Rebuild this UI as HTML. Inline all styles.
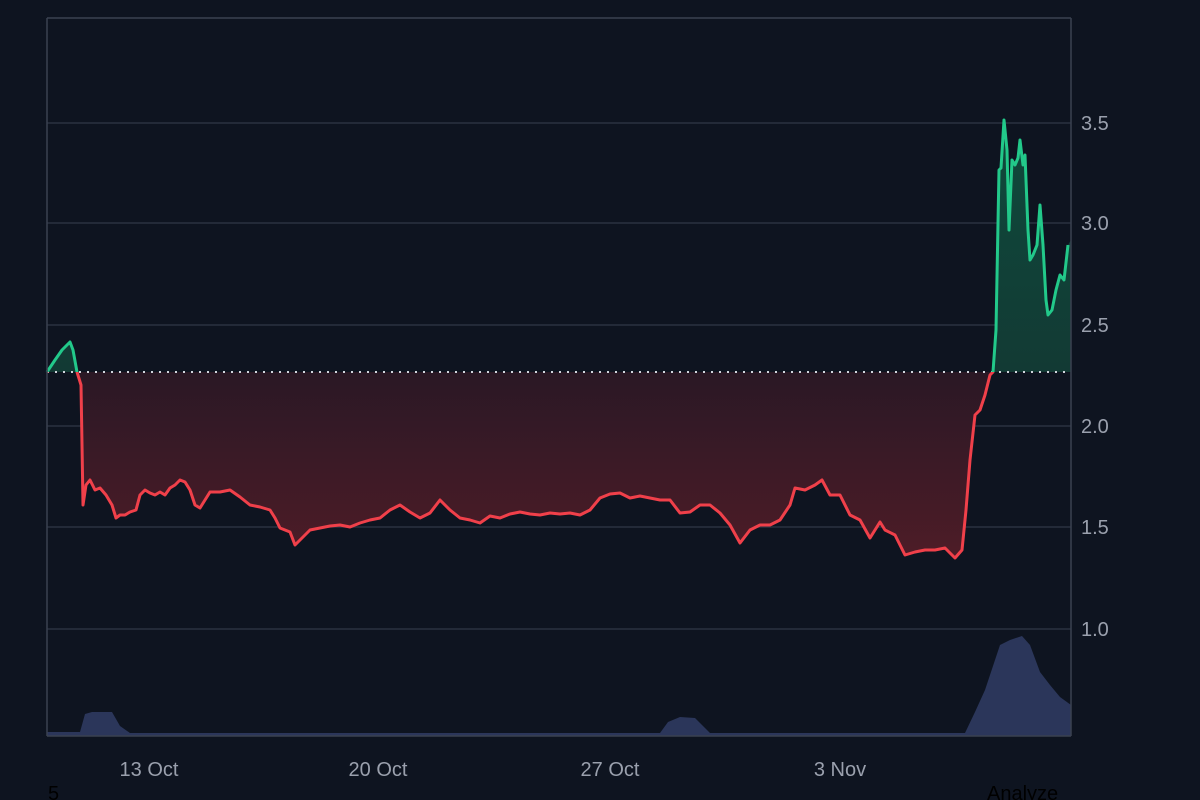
<!DOCTYPE html><html><head><style>
html,body{margin:0;padding:0;background:#0e1420;}
svg{display:block;font-family:"Liberation Sans",sans-serif;}
</style></head><body>
<svg width="1200" height="800" viewBox="0 0 1200 800">
<defs>
<linearGradient id="rg" x1="0" y1="372" x2="0" y2="560" gradientUnits="userSpaceOnUse"><stop offset="0" stop-color="#2a1825"/><stop offset="1" stop-color="#4e1c27"/></linearGradient>
<linearGradient id="gg" x1="0" y1="120" x2="0" y2="372" gradientUnits="userSpaceOnUse"><stop offset="0" stop-color="#0f4a3c"/><stop offset="1" stop-color="#123a34"/></linearGradient>
<clipPath id="top"><rect x="0" y="0" width="1200" height="372"/></clipPath>
<clipPath id="bot"><rect x="0" y="372" width="1200" height="430"/></clipPath>
<path id="l" d="M47,372 L55,360 L62,350 L66,346 L70,342 L73,350 L77,372 L81,385 L83,505 L86,485 L90,480 L95,490 L100,488 L106,495 L112,505 L116,518 L120,515 L125,515 L130,512 L136,510 L140,495 L145,490 L150,493 L155,495 L160,492 L165,495 L170,488 L175,485 L180,480 L185,482 L190,490 L195,505 L200,508 L205,500 L210,492 L220,492 L230,490 L240,497 L250,505 L260,507 L270,510 L275,518 L280,528 L290,532 L295,545 L300,540 L310,530 L320,528 L330,526 L340,525 L350,527 L360,523 L370,520 L380,518 L390,510 L400,505 L410,512 L420,518 L430,513 L440,500 L450,510 L460,518 L470,520 L480,523 L490,516 L500,518 L510,514 L520,512 L530,514 L540,515 L550,513 L560,514 L570,513 L580,515 L590,510 L600,498 L610,494 L620,493 L630,498 L640,496 L650,498 L660,500 L670,500 L680,513 L690,512 L700,505 L710,505 L720,513 L730,525 L740,543 L750,530 L760,525 L770,525 L780,520 L790,505 L795,488 L805,490 L815,485 L822,480 L830,495 L840,495 L850,515 L860,520 L870,538 L880,522 L885,530 L895,535 L905,555 L915,552 L925,550 L935,550 L945,548 L955,558 L962,550 L966,510 L970,460 L975,415 L980,410 L985,395 L990,375 L993,372 L996,330 L999,170 L1001,168 L1004,120 L1007,150 L1009,230 L1012,160 L1015,165 L1018,158 L1020,140 L1023,165 L1025,155 L1028,230 L1030,260 L1033,255 L1037,245 L1040,205 L1043,245 L1046,300 L1048,315 L1052,310 L1056,290 L1060,275 L1064,280 L1068,245"/>
<path id="a" d="M47,372 L55,360 L62,350 L66,346 L70,342 L73,350 L77,372 L81,385 L83,505 L86,485 L90,480 L95,490 L100,488 L106,495 L112,505 L116,518 L120,515 L125,515 L130,512 L136,510 L140,495 L145,490 L150,493 L155,495 L160,492 L165,495 L170,488 L175,485 L180,480 L185,482 L190,490 L195,505 L200,508 L205,500 L210,492 L220,492 L230,490 L240,497 L250,505 L260,507 L270,510 L275,518 L280,528 L290,532 L295,545 L300,540 L310,530 L320,528 L330,526 L340,525 L350,527 L360,523 L370,520 L380,518 L390,510 L400,505 L410,512 L420,518 L430,513 L440,500 L450,510 L460,518 L470,520 L480,523 L490,516 L500,518 L510,514 L520,512 L530,514 L540,515 L550,513 L560,514 L570,513 L580,515 L590,510 L600,498 L610,494 L620,493 L630,498 L640,496 L650,498 L660,500 L670,500 L680,513 L690,512 L700,505 L710,505 L720,513 L730,525 L740,543 L750,530 L760,525 L770,525 L780,520 L790,505 L795,488 L805,490 L815,485 L822,480 L830,495 L840,495 L850,515 L860,520 L870,538 L880,522 L885,530 L895,535 L905,555 L915,552 L925,550 L935,550 L945,548 L955,558 L962,550 L966,510 L970,460 L975,415 L980,410 L985,395 L990,375 L993,372 L996,330 L999,170 L1001,168 L1004,120 L1007,150 L1009,230 L1012,160 L1015,165 L1018,158 L1020,140 L1023,165 L1025,155 L1028,230 L1030,260 L1033,255 L1037,245 L1040,205 L1043,245 L1046,300 L1048,315 L1052,310 L1056,290 L1060,275 L1064,280 L1068,245 L1071,240 L1071,372 Z"/>
</defs>
<rect width="1200" height="800" fill="#0e1420"/>
<g stroke="#2a3140" stroke-width="1.5">
<line x1="47" y1="123" x2="1071" y2="123"/><line x1="47" y1="223" x2="1071" y2="223"/><line x1="47" y1="325" x2="1071" y2="325"/><line x1="47" y1="426" x2="1071" y2="426"/><line x1="47" y1="527" x2="1071" y2="527"/><line x1="47" y1="629" x2="1071" y2="629"/>
</g>
<g clip-path="url(#bot)"><use href="#a" fill="url(#rg)"/></g>
<g clip-path="url(#top)"><use href="#a" fill="url(#gg)"/></g>
<line x1="47" y1="372" x2="1071" y2="372" stroke="#d0d4dc" stroke-width="2" stroke-dasharray="2,6"/>
<g clip-path="url(#top)"><use href="#l" stroke="#22c98a" stroke-width="3" fill="none" stroke-linejoin="round"/></g>
<g clip-path="url(#bot)"><use href="#l" stroke="#f0404a" stroke-width="3" fill="none" stroke-linejoin="round"/></g>
<path d="M47,736 L47,732 L80,732 L85,714 L92,712 L112,712 L120,726 L130,733 L660,733 L668,722 L680,717 L695,718 L710,733 L965,733 L975,712 L985,690 L995,660 L1000,645 L1010,640 L1022,636 L1030,645 L1040,672 L1050,685 L1060,697 L1071,705 L1071,736 Z" fill="#2b365a"/>
<g stroke="#3a4150" stroke-width="1.5"><line x1="47" y1="18" x2="1071" y2="18"/><line x1="47" y1="18" x2="47" y2="736"/><line x1="1071" y1="18" x2="1071" y2="736"/><line x1="47" y1="736" x2="1071" y2="736"/></g>
<g fill="#9aa0ad" font-size="20">
<text x="1081" y="130">3.5</text><text x="1081" y="230">3.0</text><text x="1081" y="332">2.5</text><text x="1081" y="433">2.0</text><text x="1081" y="534">1.5</text><text x="1081" y="636">1.0</text>
<text x="149" y="776" text-anchor="middle">13 Oct</text><text x="378" y="776" text-anchor="middle">20 Oct</text><text x="610" y="776" text-anchor="middle">27 Oct</text><text x="840" y="776" text-anchor="middle">3 Nov</text>
</g>
<text x="48" y="800" font-size="20" fill="#000">5</text>
<text x="987" y="800" font-size="20" fill="#000">Analyze</text>
</svg>
</body></html>
